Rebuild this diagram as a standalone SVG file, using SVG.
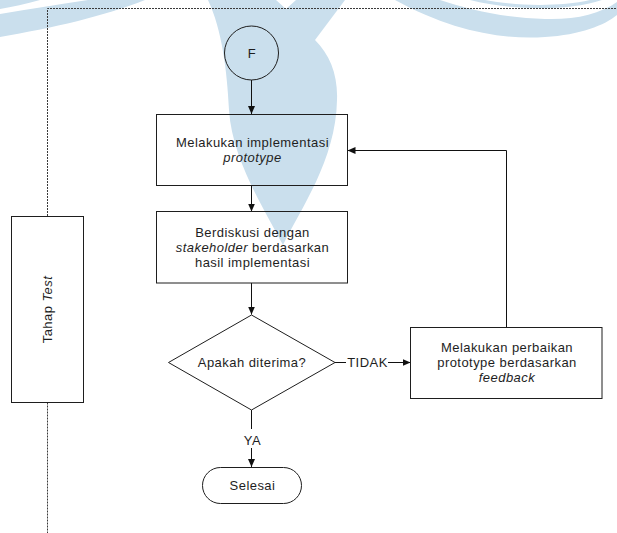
<svg xmlns="http://www.w3.org/2000/svg" width="617" height="533" viewBox="0 0 617 533">
  <style>
    .bg { fill: #cadfed; }
    .shape { fill: none; stroke: #1e1e1e; stroke-width: 1; }
    .lane { fill: none; stroke: #3a3a3a; stroke-width: 1; stroke-dasharray: 2 1; }
    .conn { fill: none; stroke: #111; stroke-width: 1; }
    text { font-family: "Liberation Sans", Arial, sans-serif; font-size: 13px; letter-spacing: 0.45px; fill: #1e1e1e; text-anchor: middle; }
    .it { font-style: italic; }
  </style>
  <defs>
    <marker id="arrow" markerUnits="userSpaceOnUse" markerWidth="9" markerHeight="8" refX="8" refY="3.5" orient="auto">
      <path d="M0,0 L8,3.5 L0,7 Z" fill="#111"/>
    </marker>
  </defs>

  <rect width="617" height="533" fill="#ffffff"/>

  <!-- background emblem -->
  <g id="emblem">
    <path class="bg" d="M0,0 L40,0 C26,4 12,7 0,9 Z"/>
    <path class="bg" d="M0,14 C30,9 60,4 88,0 L145,0 C105,16 52,28 0,37 Z"/>
    <path class="bg" d="M208,0 L276,0 L286,9 L296,0 L345,0 L315,40 C330,55 338,75 337,100 C336,160 300,210 283,245 C265,210 232,160 229,110 C227,70 222,30 208,0 Z"/>
    <path class="bg" d="M395,0 C450,30 500,40 545,37 C580,35 605,25 617,15 L617,2 C600,14 575,20 545,19 C505,18 470,10 440,0 Z"/>
    <path class="bg" d="M470,0 C510,10 565,12 602,0 L590,0 C560,7 515,6 485,0 Z"/>
  </g>

  <!-- swimlane boundary -->
  <g id="lane">
    <path class="lane" d="M47.5,216 V8.5 H617"/>
    <path class="lane" d="M47.5,402.5 V533"/>
  </g>

  <g id="lane-label">
    <rect class="shape" x="11.5" y="216.5" width="72" height="186"/>
    <text transform="translate(52,309.5) rotate(-90)">Tahap <tspan class="it">Test</tspan></text>
  </g>

  <!-- connectors -->
  <g id="connectors">
    <path class="conn" d="M251.5,80 V114" marker-end="url(#arrow)"/>
    <path class="conn" d="M251.5,185 V211.5" marker-end="url(#arrow)"/>
    <path class="conn" d="M251.5,283 V314.5" marker-end="url(#arrow)"/>
    <path class="conn" d="M335,362.5 H346"/>
    <path class="conn" d="M388,362.5 H410.5" marker-end="url(#arrow)"/>
    <path class="conn" d="M251.5,410 V429"/>
    <path class="conn" d="M251.5,448 V467" marker-end="url(#arrow)"/>
    <path class="conn" d="M506.5,327 V150.5 H347.5" marker-end="url(#arrow)"/>
    <text x="367.5" y="367">TIDAK</text>
    <text x="252.5" y="444.5">YA</text>
  </g>

  <g id="start-F">
    <circle class="shape" cx="251.5" cy="53" r="27"/>
    <text x="252" y="57.5">F</text>
  </g>

  <g id="implementasi">
    <rect class="shape" x="156.5" y="114.5" width="191" height="71"/>
    <text x="252.5" y="146.5">Melakukan implementasi</text>
    <text x="252.5" y="161.5" class="it">prototype</text>
  </g>

  <g id="diskusi">
    <rect class="shape" x="156.5" y="211.5" width="191" height="71.5"/>
    <text x="252.5" y="236.5">Berdiskusi dengan</text>
    <text x="252.5" y="251.5"><tspan class="it">stakeholder</tspan> berdasarkan</text>
    <text x="252.5" y="266.5">hasil implementasi</text>
  </g>

  <g id="keputusan">
    <polygon class="shape" points="251.5,315 335,362.5 251.5,410 168.5,362.5"/>
    <text x="252" y="367">Apakah diterima?</text>
  </g>

  <g id="perbaikan">
    <rect class="shape" x="410.5" y="327.5" width="191.5" height="71"/>
    <text x="507" y="351.5">Melakukan perbaikan</text>
    <text x="507" y="366.5">prototype berdasarkan</text>
    <text x="507" y="381.5" class="it">feedback</text>
  </g>

  <g id="selesai">
    <rect class="shape" x="202.5" y="467.5" width="99" height="36" rx="18" ry="18"/>
    <text x="252.5" y="490">Selesai</text>
  </g>
</svg>
